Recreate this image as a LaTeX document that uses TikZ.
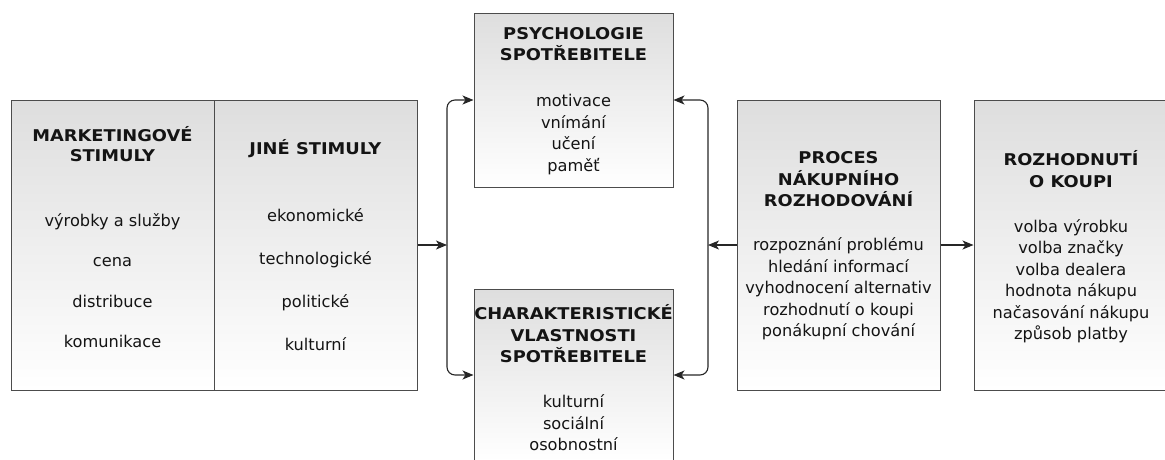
\documentclass[tikz,border=0pt]{standalone}
\usepackage{fontspec}
\setmainfont{DejaVu Sans}[BoldFeatures={FakeStretch=1.1}]
\usetikzlibrary{arrows.meta}
\begin{document}
\begin{tikzpicture}[x=1pt,y=-1pt,
  box/.style={draw=black!70, line width=1pt, rectangle, inner sep=0pt,
    top color=black!13, bottom color=white},
  txt/.style={align=center, inner sep=0pt, text=black!92,
    font=\fontsize{16.2}{21.5}\selectfont},
  arr/.style={draw=black!85, line width=1.1pt,
    -{Stealth[length=11pt,width=9pt,inset=3pt]}},
  elbow/.style={arr, rounded corners=8pt}]
\useasboundingbox (0,0) rectangle (1165,459);
\clip (0,0) rectangle (1165,459);

% boxes
\node[box, minimum width=203pt, minimum height=290pt] (mark)   at (112.5,245) {};
\node[box, minimum width=203pt, minimum height=290pt] (jine)   at (315.5,245) {};
\node[box, minimum width=199pt, minimum height=174pt] (psych)  at (573.5,100) {};
\node[box, minimum width=199pt, minimum height=172pt] (char)   at (573.5,375) {};
\node[box, minimum width=203pt, minimum height=290pt] (proces) at (838.5,245) {};
\node[box, minimum width=194pt, minimum height=290pt] (rozh)   at (1071,245) {};

% box texts
\node[txt] (markT) at (112.5,237) {\textbf{MARKETINGOVÉ}\\[-1.5pt]\textbf{STIMULY}\\[43.5pt]
  výrobky a služby\\[19pt]cena\\[19pt]distribuce\\[19pt]komunikace};
\node[txt] (jineT) at (315.5,245) {\textbf{JINÉ STIMULY}\\[45.5pt]
  ekonomické\\[21.5pt]technologické\\[21.5pt]politické\\[21.5pt]kulturní};
\node[txt] (psychT) at (573.5,101) {\textbf{PSYCHOLOGIE}\\\textbf{SPOTŘEBITELE}\\[24.5pt]
  motivace\\vnímání\\učení\\paměť};
\node[txt] (charT) at (573.5,378) {\textbf{CHARAKTERISTICKÉ}\\\textbf{VLASTNOSTI}\\\textbf{SPOTŘEBITELE}\\[23.5pt]
  kulturní\\sociální\\osobnostní};
\node[txt] (procesT) at (838.5,246) {\textbf{PROCES}\\\textbf{NÁKUPNÍHO}\\\textbf{ROZHODOVÁNÍ}\\[22.5pt]
  rozpoznání problému\\hledání informací\\vyhodnocení alternativ\\rozhodnutí o koupi\\ponákupní chování};
\node[txt] (rozhT) at (1071,247) {\textbf{ROZHODNUTÍ}\\\textbf{O KOUPI}\\[23.5pt]
  volba výrobku\\volba značky\\volba dealera\\hodnota nákupu\\načasování nákupu\\způsob platby};

% branching points of the two brackets
\coordinate (lb) at (447,245);
\coordinate (rb) at (708,245);

% connectors
\draw[arr] (jine.east) -- (lb);
\draw[elbow] (lb) |- (psych.west);
\draw[elbow] (lb) |- (char.west);
\draw[arr] (proces.west) -- (rb);
\draw[elbow] (rb) |- (psych.east);
\draw[elbow] (rb) |- (char.east);
\draw[arr] (proces.east) -- (rozh.west);
\end{tikzpicture}
\end{document}
